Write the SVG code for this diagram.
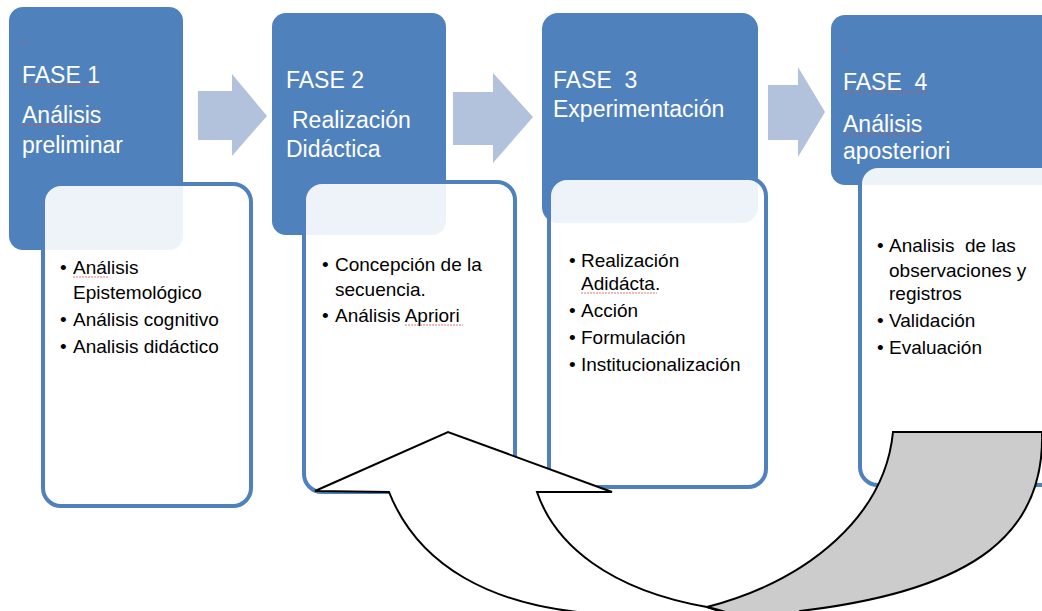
<svg xmlns="http://www.w3.org/2000/svg" width="1042" height="611" viewBox="0 0 1042 611">
<style>
.phase{fill:#4F81BD}
.detail{fill:#FFFFFF;fill-opacity:0.9;stroke:#4F81BD;stroke-width:4}
.ht{font-family:"Liberation Sans",Arial,sans-serif;font-size:23px;fill:#FFFFFF}
.bt{font-family:"Liberation Sans",Arial,sans-serif;font-size:19px;fill:#000000}
.flow{fill:#B2C2DC}
.sp{stroke:#D9534F;stroke-width:0.8;fill:none;stroke-dasharray:2 1}
.curve{stroke:#000000;stroke-width:2;stroke-linejoin:miter}
</style>
<rect width="1042" height="611" fill="#FFFFFF"/>

<g id="fase1">
  <rect class="phase" x="9" y="7" width="174" height="243" rx="14"/>
  <line class="sp" x1="22" y1="42" x2="28" y2="42"/>
  <text class="ht" x="22" y="83">FASE 1</text>
  <line class="sp" x1="22" y1="85" x2="100" y2="85"/>
  <text class="ht" x="22" y="123">Análisis</text>
  <line class="sp" x1="22" y1="125" x2="103" y2="125"/>
  <text class="ht" x="22" y="153">preliminar</text>
  <rect class="detail" x="43" y="184" width="208" height="322" rx="18"/>
  <text class="bt" x="60" y="274">•</text><text class="bt" x="73" y="274">Análisis</text>
  <line class="sp" x1="73" y1="277" x2="108" y2="277"/>
  <text class="bt" x="73" y="299">Epistemológico</text>
  <text class="bt" x="60" y="326">•</text><text class="bt" x="73" y="326">Análisis cognitivo</text>
  <text class="bt" x="60" y="353">•</text><text class="bt" x="73" y="353">Analisis didáctico</text>
</g>

<g id="fase2">
  <rect class="phase" x="272" y="13" width="174" height="222" rx="14"/>
  <text class="ht" x="286" y="88">FASE 2</text>
  <text class="ht" x="292" y="128">Realización</text>
  <text class="ht" x="286" y="157">Didáctica</text>
  <rect class="detail" x="304" y="182" width="211" height="310" rx="18"/>
  <text class="bt" x="322" y="271">•</text><text class="bt" x="335" y="271">Concepción de la</text>
  <text class="bt" x="335" y="296">secuencia.</text>
  <text class="bt" x="322" y="322">•</text><text class="bt" x="335" y="322">Análisis Apriori</text>
  <line class="sp" x1="405" y1="325" x2="463" y2="325"/>
</g>

<g id="fase3">
  <rect class="phase" x="542" y="13" width="216" height="210" rx="16"/>
  <text class="ht" x="553" y="88" xml:space="preserve">FASE  3</text>
  <text class="ht" x="553" y="117">Experimentación</text>
  <rect class="detail" x="549" y="178" width="217" height="309" rx="18"/>
  <text class="bt" x="569" y="267">•</text><text class="bt" x="581" y="267">Realización</text>
  <text class="bt" x="581" y="290">Adidácta.</text>
  <line class="sp" x1="581" y1="293" x2="657" y2="293"/>
  <text class="bt" x="569" y="317">•</text><text class="bt" x="581" y="317">Acción</text>
  <text class="bt" x="569" y="344">•</text><text class="bt" x="581" y="344">Formulación</text>
  <text class="bt" x="569" y="371">•</text><text class="bt" x="581" y="371">Institucionalización</text>
</g>

<g id="fase4">
  <rect class="phase" x="831" y="15" width="230" height="170" rx="14"/>
  <line class="sp" x1="843" y1="50" x2="849" y2="50"/>
  <text class="ht" x="843" y="90" xml:space="preserve">FASE  4</text>
  <line class="sp" x1="843" y1="92" x2="927" y2="92"/>
  <text class="ht" x="843" y="132">Análisis</text>
  <line class="sp" x1="843" y1="134" x2="924" y2="134"/>
  <text class="ht" x="843" y="159">aposteriori</text>
  <rect class="detail" x="860" y="166" width="200" height="319" rx="18"/>
  <text class="bt" x="877" y="252">•</text><text class="bt" x="889" y="252" xml:space="preserve">Analisis  de las</text>
  <text class="bt" x="889" y="277">observaciones y</text>
  <text class="bt" x="889" y="300">registros</text>
  <text class="bt" x="877" y="327">•</text><text class="bt" x="889" y="327">Validación</text>
  <text class="bt" x="877" y="354">•</text><text class="bt" x="889" y="354">Evaluación</text>
</g>

<g id="connectors">
  <polygon class="flow" points="198,91 232,91 232,74 267,116 232,156 232,140 198,140"/>
  <polygon class="flow" points="453,92 493,92 493,73 533,117 493,163 493,145 453,145"/>
  <polygon class="flow" points="768,85 798,85 798,67 825,112 798,157 798,140 768,140"/>
  <path class="curve" fill="#FFFFFF" d="M315,491 L448,432 L612,492 L537,492 C555,545 610,590 707,607 L760,625 L600,625 L600,614 C490,607 418,565 389,492 Z"/>
  <path class="curve" fill="#CCCCCC" d="M707,607 C810,580 885,515 893,432 L1042,432 C1045,530 980,590 800,611 L790,625 L760,625 Q730,612 707,607 Z"/>
</g>
</svg>
